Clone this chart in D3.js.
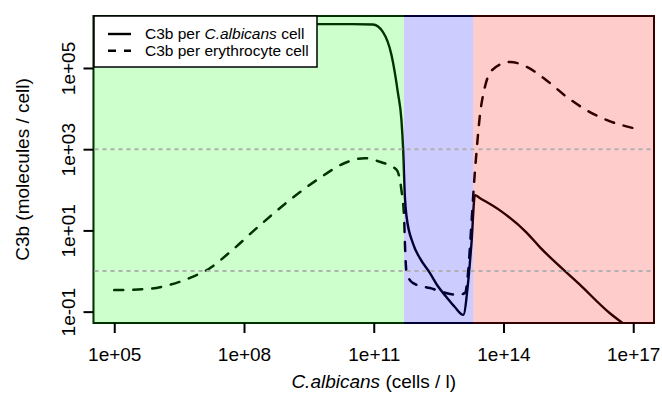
<!DOCTYPE html>
<html>
<head>
<meta charset="utf-8">
<script src="https://cdn.jsdelivr.net/npm/d3@7"></script>
<style>
  body { margin: 0; background: #fff; }
  svg text { font-family: "Liberation Sans", Arial, Helvetica, sans-serif; fill: #000; }
</style>
</head>
<body>
<div id="chart"></div>
<script>
// log10 of concentration (cells / l) and log10 of C3b (molecules / cell)
const albicansX = [5.0, 10.5, 10.98, 11.21, 11.41, 11.56, 11.64, 11.68, 11.72, 11.76, 11.91, 12.07, 12.30, 12.48, 12.68, 12.87, 13.07, 13.18, 13.26, 13.34, 13.45, 13.91, 14.54, 14.84, 15.76, 16.46, 16.80, 17.0];
const albicansY = [6.08, 6.08, 6.07, 5.89, 5.32, 4.38, 3.72, 2.98, 1.82, 1.33, 0.67, 0.31, -0.05, -0.37, -0.64, -0.88, -1.08, -0.30, 0.69, 1.87, 1.80, 1.50, 0.94, 0.59, -0.33, -1.04, -1.32, -1.50];

const erythroX = [5.0, 5.79, 6.25, 6.75, 7.21, 7.68, 8.37, 9.06, 9.75, 10.33, 10.79, 11.14, 11.53, 11.64, 11.70, 11.72, 11.76, 11.91, 12.30, 12.95, 13.11, 13.18, 13.26, 13.32, 13.38, 13.45, 13.57, 13.76, 14.15, 14.53, 14.99, 15.46, 15.92, 16.38, 17.0];
const erythroY = [-0.47, -0.44, -0.35, -0.17, 0.07, 0.47, 1.13, 1.75, 2.29, 2.66, 2.78, 2.69, 2.49, 1.99, 1.34, 0.69, -0.05, -0.30, -0.42, -0.59, -0.54, -0.05, 1.18, 2.17, 2.98, 3.79, 4.53, 4.97, 5.15, 5.03, 4.70, 4.29, 3.96, 3.72, 3.52];

// regimes: [from, to, colour]
const regionStart = [1e3, 5e11, 2e13];
const regionEnd = [5e11, 2e13, 1e19];
const regionColor = ["#00ff00", "#0000ff", "#ff0000"];

const xTicks = [1e5, 1e8, 1e11, 1e14, 1e17];
const yTicks = [1e-1, 1e1, 1e3, 1e5];
const hLines = [1e3, 1e0];

const legendLabels = [["C3b per ", "C.albicans", " cell"], ["C3b per erythrocyte cell", "", ""]];

const W = 662, H = 405;
const plot = {left: 93.5, right: 654, top: 16, bottom: 323};

const svg = d3.select("#chart").append("svg")
  .attr("width", W).attr("height", H);

const x = d3.scaleLog()
  .domain([Math.pow(10, 4.52), Math.pow(10, 17.48)])
  .range([plot.left, plot.right]);
const y = d3.scaleLog()
  .domain([Math.pow(10, -1.28), Math.pow(10, 6.28)])
  .range([plot.bottom, plot.top]);

const fmt = d => {
  const e = Math.round(Math.log10(d));
  return "1e" + (e < 0 ? "-" : "+") + String(Math.abs(e)).padStart(2, "0");
};

svg.append("clipPath").attr("id", "clip")
  .append("rect")
  .attr("x", plot.left).attr("y", plot.top)
  .attr("width", plot.right - plot.left).attr("height", plot.bottom - plot.top);

const line = d3.line()
  .x(d => x(Math.pow(10, d[0])))
  .y(d => y(Math.pow(10, d[1])))
  .curve(d3.curveMonotoneX);

const g = svg.append("g").attr("clip-path", "url(#clip)");

g.append("path")
  .attr("d", line(d3.zip(albicansX, albicansY)))
  .attr("fill", "none").attr("stroke", "#000")
  .attr("stroke-width", 2.4).attr("stroke-linejoin", "round").attr("stroke-linecap", "round");

g.append("path")
  .attr("d", line(d3.zip(erythroX, erythroY)))
  .attr("fill", "none").attr("stroke", "#000")
  .attr("stroke-width", 2.5).attr("stroke-linecap", "round")
  .attr("stroke-dasharray", "9,10");

// box
svg.append("rect")
  .attr("x", plot.left).attr("y", plot.top)
  .attr("width", plot.right - plot.left).attr("height", plot.bottom - plot.top)
  .attr("fill", "none").attr("stroke", "#000").attr("stroke-width", 2);

// translucent regime shading drawn on top
svg.selectAll(".region")
  .data(regionColor)
  .join("rect")
  .attr("x", (d, i) => Math.max(plot.left - 1, x(regionStart[i])))
  .attr("width", (d, i) => Math.min(plot.right + 1, x(regionEnd[i])) - Math.max(plot.left - 1, x(regionStart[i])))
  .attr("y", plot.top - 1)
  .attr("height", plot.bottom - plot.top + 2)
  .attr("fill", d => d)
  .attr("fill-opacity", 0.2);

// reference lines
svg.selectAll(".hline")
  .data(hLines)
  .join("line")
  .attr("x1", plot.left + 1).attr("x2", plot.right - 1)
  .attr("y1", d => y(d)).attr("y2", d => y(d))
  .attr("stroke", "#b0b0b0")
  .attr("stroke-width", 2)
  .attr("stroke-dasharray", "4,4");

// axes
const xAxis = svg.append("g")
  .attr("transform", `translate(0,${plot.bottom})`)
  .call(d3.axisBottom(x).tickValues(xTicks).tickFormat(fmt).tickSize(10).tickPadding(15));
const yAxis = svg.append("g")
  .attr("transform", `translate(${plot.left},0)`)
  .call(d3.axisLeft(y).tickValues(yTicks).tickFormat(fmt).tickSize(10));

[xAxis, yAxis].forEach(a => {
  a.select(".domain").remove();
  a.selectAll(".tick line").attr("stroke", "#000").attr("stroke-width", 2);
  a.selectAll("text").style("font-size", "19px").attr("fill", "#000");
});
xAxis.selectAll("text").attr("dy", "0.71em");
// y labels run vertically, centred on each tick
yAxis.selectAll(".tick text")
  .attr("x", null).attr("dy", "0.35em")
  .attr("text-anchor", "middle")
  .attr("transform", "translate(-25,0) rotate(-90)");

// titles
const xt = svg.append("text")
  .attr("x", (plot.left + plot.right) / 2).attr("y", 388)
  .attr("text-anchor", "middle").style("font-size", "19px");
xt.append("tspan").attr("font-style", "italic").text("C.albicans");
xt.append("tspan").text(" (cells / l)");

svg.append("text")
  .attr("transform", `translate(29,${(plot.top + plot.bottom) / 2}) rotate(-90)`)
  .attr("text-anchor", "middle").style("font-size", "19px")
  .text("C3b (molecules / cell)");

// legend
const lg = svg.append("g");
lg.append("rect")
  .attr("x", 94).attr("y", 16).attr("width", 223).attr("height", 51)
  .attr("fill", "#fff").attr("stroke", "#000").attr("stroke-width", 1.5);
legendLabels.forEach((lab, i) => {
  const ly = 34 + i * 16.7;
  lg.append("line")
    .attr("x1", 108).attr("x2", 131).attr("y1", ly).attr("y2", ly)
    .attr("stroke", "#000").attr("stroke-width", 2.4)
    .attr("stroke-dasharray", i ? "8,8" : null);
  const t = lg.append("text").attr("x", 145).attr("y", ly).attr("dy", "0.35em")
    .style("font-size", "15.5px");
  t.append("tspan").text(lab[0]);
  if (lab[1]) t.append("tspan").attr("font-style", "italic").text(lab[1]);
  if (lab[2]) t.append("tspan").text(lab[2]);
});
</script>
</body>
</html>
